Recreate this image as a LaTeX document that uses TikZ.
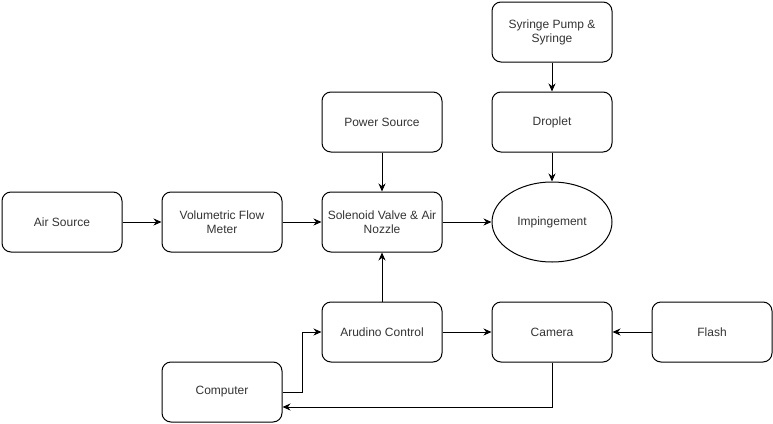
\documentclass[tikz,border=0pt]{standalone}
\usepackage{fontspec}
\setmainfont{Liberation Sans}
\usetikzlibrary{arrows.meta,shapes.geometric}
\tikzset{
  block/.style={draw,line width=1pt,rounded corners=9pt,minimum width=120pt,minimum height=60pt,
    align=center,font=\fontsize{12}{14}\selectfont,text=black!80},
  oval/.style={draw,line width=1pt,ellipse,minimum width=120pt,minimum height=80pt,
    inner sep=0pt,font=\fontsize{12}{14}\selectfont,text=black!80},
  link/.style={line width=1pt,-{Stealth[length=8pt,width=7pt]}}
}
\begin{document}
\begin{tikzpicture}[x=1pt,y=-1pt]
\useasboundingbox (0,0) rectangle (773,423);
\node[block] (air) at (62,222) {Air Source};
\node[block] (flow) at (222,222) {Volumetric Flow\\Meter};
\node[block] (valve) at (382,222) {Solenoid Valve \& Air\\Nozzle};
\node[block] (power) at (382,122) {Power Source};
\node[block] (pump) at (552,32) {Syringe Pump \&\\Syringe};
\node[block] (drop) at (552,122) {Droplet};
\node[oval] (imp) at (552,222) {Impingement};
\node[block] (ard) at (382,332) {Arudino Control};
\node[block] (cam) at (552,332) {Camera};
\node[block] (flash) at (712,332) {Flash};
\node[block] (comp) at (222,392) {Computer};
\coordinate (knee) at (302,392);
\draw[link] (air)--(flow);
\draw[link] (flow)--(valve);
\draw[link] (power)--(valve);
\draw[link] (valve)--(imp);
\draw[link] (pump)--(drop);
\draw[link] (drop)--(imp);
\draw[link] (ard)--(valve);
\draw[link] (ard)--(cam);
\draw[link] (flash)--(cam);
\draw[link] (comp.east|-knee)--(knee)|-(ard.west);
\draw[link] (cam.south)|-([yshift=-15pt]comp.east);
\end{tikzpicture}
\end{document}
